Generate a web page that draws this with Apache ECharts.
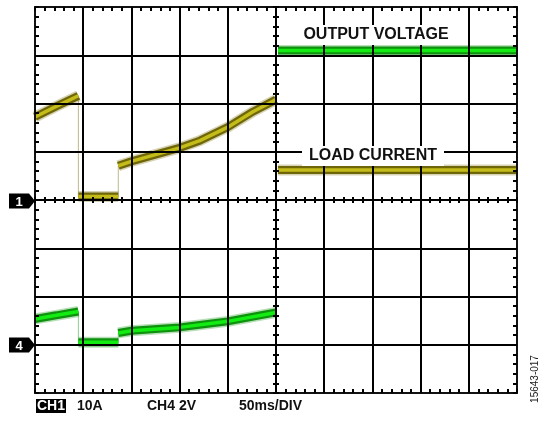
<!DOCTYPE html>
<html><head><meta charset="utf-8">
<script src="https://cdn.jsdelivr.net/npm/echarts@6/dist/echarts.min.js"></script>
<style>html,body{margin:0;padding:0;background:#fff}#c{width:540px;height:421px}</style>
</head><body><div id="c"></div>
<script>
// ---- data (time in ms, CH1 in A, CH4 in V) ----
const xTicksMs = [0, 500, 50];          // min, max, ms per division
const ch1Range = [-40, 40, 10];         // A, 10 A/div, zero at centre
const ch4Range = [-2, 14, 2];           // V, 2 V/div, zero 3 div below centre
const ch1Ramp1 = [[0, 17.2], [22, 19.4], [45, 21.6]];
const ch1Flat  = [[45, 0.7], [86.4, 0.7]];
const ch1Ramp2 = [[86.4, 7.1], [100, 8.0], [150, 10.8], [171, 12.3], [200, 15.1], [226, 18.3], [250, 20.8]];
const ch1Edges = [[[45, 21.6], [45, 0.7]], [[86.4, 0.7], [86.4, 7.1]]];
const ch4Ramp1 = [[0, 1.07], [22, 1.22], [45, 1.38]];
const ch4Flat  = [[45, 0.10], [86.4, 0.10]];
const ch4Ramp2 = [[86.4, 0.49], [100, 0.58], [150, 0.72], [200, 0.97], [250, 1.34]];
const ch4Edges = [[[45, 1.38], [45, 0.10]], [[86.4, 0.10], [86.4, 0.49]]];
const loadCurrent   = [[252, 6.2], [500, 6.2]];   // A
const outputVoltage = [[252, 12.2], [500, 12.2]]; // V
const bottomTexts = ['CH1', '10A', 'CH4 2V', '50ms/DIV'];
const traceLabels = ['OUTPUT VOLTAGE', 'LOAD CURRENT'];
const figId = '15643-017';

const FONT = '"Liberation Sans", Arial, sans-serif';
const YEL = {glow: 'rgba(140,130,40,0.35)', outer: '#6e6608', inner: '#c4bc18'};
const GRN = {glow: 'rgba(50,160,50,0.35)', outer: '#0e920e', inner: '#12ec12'};

function trace(data, yi, pal) {
  const base = {type: 'line', xAxisIndex: 0, yAxisIndex: yi, symbol: 'none', silent: true, animation: false, data: data, z: 2};
  return [
    Object.assign({}, base, {lineStyle: {width: 11, color: pal.glow}}),
    Object.assign({}, base, {lineStyle: {width: 8, color: pal.outer}}),
    Object.assign({}, base, {lineStyle: {width: 3.5, color: pal.inner}})
  ];
}
function edge(data, yi, color) {
  return {type: 'line', xAxisIndex: 0, yAxisIndex: yi, symbol: 'none', silent: true, animation: false,
    data: data, z: 1, lineStyle: {width: 1, color: color}};
}

const W = 482, H = 386;
const tickStyle = {show: true, length: 4, lineStyle: {color: '#000', width: 2}};
const minorStyle = {show: true, splitNumber: 5, length: 4, lineStyle: {color: '#000', width: 2}};
const crossMinor = {show: true, splitNumber: 5, length: 3, lineStyle: {color: '#000', width: 2}};

function xAx(extra) {
  return Object.assign({type: 'value', min: xTicksMs[0], max: xTicksMs[1], interval: xTicksMs[2],
    axisLabel: {show: false}, splitLine: {show: false}, axisLine: {show: false}, z: 10}, extra);
}
function yAx(extra) {
  return Object.assign({type: 'value', min: ch1Range[0], max: ch1Range[1], interval: ch1Range[2],
    axisLabel: {show: false}, splitLine: {show: false}, axisLine: {show: false}, z: 10}, extra);
}

const xAxes = [
  xAx({position: 'bottom', splitLine: {show: true, lineStyle: {color: '#000', width: 2}},
       axisLine: {show: true, onZero: false, lineStyle: {color: '#111', width: 2}},
       axisTick: Object.assign({inside: true}, tickStyle), minorTick: minorStyle}),
  xAx({position: 'top', axisLine: {show: true, onZero: false, lineStyle: {color: '#111', width: 2}},
       axisTick: Object.assign({inside: true}, tickStyle), minorTick: minorStyle}),
  xAx({position: 'bottom', offset: -H / 2, axisLine: {show: false, onZero: false},
       axisTick: Object.assign({inside: true}, tickStyle, {length: 3}), minorTick: crossMinor}),
  xAx({position: 'bottom', offset: -H / 2, axisLine: {show: false, onZero: false},
       axisTick: Object.assign({inside: false}, tickStyle, {length: 3}), minorTick: crossMinor})
];
const yAxes = [
  yAx({position: 'left', splitLine: {show: true, lineStyle: {color: '#000', width: 2}},
       axisLine: {show: true, onZero: false, lineStyle: {color: '#111', width: 2}},
       axisTick: Object.assign({inside: true}, tickStyle), minorTick: minorStyle}),
  yAx({position: 'right', axisLine: {show: true, onZero: false, lineStyle: {color: '#111', width: 2}},
       axisTick: Object.assign({inside: true}, tickStyle), minorTick: minorStyle}),
  yAx({position: 'left', offset: -W / 2, axisLine: {show: false, onZero: false},
       axisTick: Object.assign({inside: true}, tickStyle, {length: 3}), minorTick: crossMinor}),
  yAx({position: 'left', offset: -W / 2, axisLine: {show: false, onZero: false},
       axisTick: Object.assign({inside: false}, tickStyle, {length: 3}), minorTick: crossMinor}),
  {type: 'value', show: false, min: ch4Range[0], max: ch4Range[1], interval: ch4Range[2]}
];

const series = [].concat(
  ch1Edges.map(d => edge(d, 0, '#bdb98e')),
  ch4Edges.map(d => edge(d, 4, '#8fd08f')),
  trace(ch1Ramp1, 0, YEL), trace(ch1Flat, 0, YEL), trace(ch1Ramp2, 0, YEL),
  trace(ch4Ramp1, 4, GRN), trace(ch4Flat, 4, GRN), trace(ch4Ramp2, 4, GRN),
  trace(loadCurrent, 0, YEL), trace(outputVoltage, 4, GRN)
);

function marker(label, yc) {
  return [
    {type: 'polygon', z: 100, shape: {points: [[9, yc - 7.5], [29, yc - 7.5], [35, yc], [29, yc + 7.5], [9, yc + 7.5]]},
     style: {fill: '#000'}},
    {type: 'text', z: 101, x: 19, y: yc + 1, style: {text: label, fill: '#fff', font: 'bold 13px ' + FONT,
     align: 'center', verticalAlign: 'middle'}}
  ];
}

const graphics = [].concat(
  marker('1', 201), marker('4', 345),
  [
    {type: 'text', z: 100, x: 376, y: 35, style: {text: traceLabels[0], fill: '#111', font: 'bold 16px ' + FONT,
      align: 'center', verticalAlign: 'middle', backgroundColor: '#fff', padding: [2, 4, 2, 4]}},
    {type: 'text', z: 100, x: 373, y: 156, style: {text: traceLabels[1], fill: '#111', font: 'bold 16px ' + FONT,
      align: 'center', verticalAlign: 'middle', backgroundColor: '#fff', padding: [2, 7, 2, 7]}},
    {type: 'text', z: 100, x: 51, y: 406, style: {text: bottomTexts[0], fill: '#fff', font: 'bold 14px ' + FONT,
      align: 'center', verticalAlign: 'middle', backgroundColor: '#000', padding: [0, 1, 0, 1]}},
    {type: 'text', z: 100, x: 77, y: 406, style: {text: bottomTexts[1], fill: '#111', font: 'bold 14px ' + FONT,
      align: 'left', verticalAlign: 'middle'}},
    {type: 'text', z: 100, x: 147, y: 406, style: {text: bottomTexts[2], fill: '#111', font: 'bold 14px ' + FONT,
      align: 'left', verticalAlign: 'middle'}},
    {type: 'text', z: 100, x: 239, y: 406, style: {text: bottomTexts[3], fill: '#111', font: 'bold 14px ' + FONT,
      align: 'left', verticalAlign: 'middle'}},
    {type: 'text', z: 100, x: 535, y: 379, rotation: Math.PI / 2, style: {text: figId, fill: '#222',
      font: '10px ' + FONT, align: 'center', verticalAlign: 'middle'}}
  ]
);

const chart = echarts.init(document.getElementById('c'), null, {renderer: 'canvas'});
chart.setOption({
  animation: false,
  backgroundColor: '#fff',
  grid: {left: 35, top: 7, width: W, height: H, containLabel: false},
  xAxis: xAxes,
  yAxis: yAxes,
  series: series,
  graphic: graphics
});
</script></body></html>
